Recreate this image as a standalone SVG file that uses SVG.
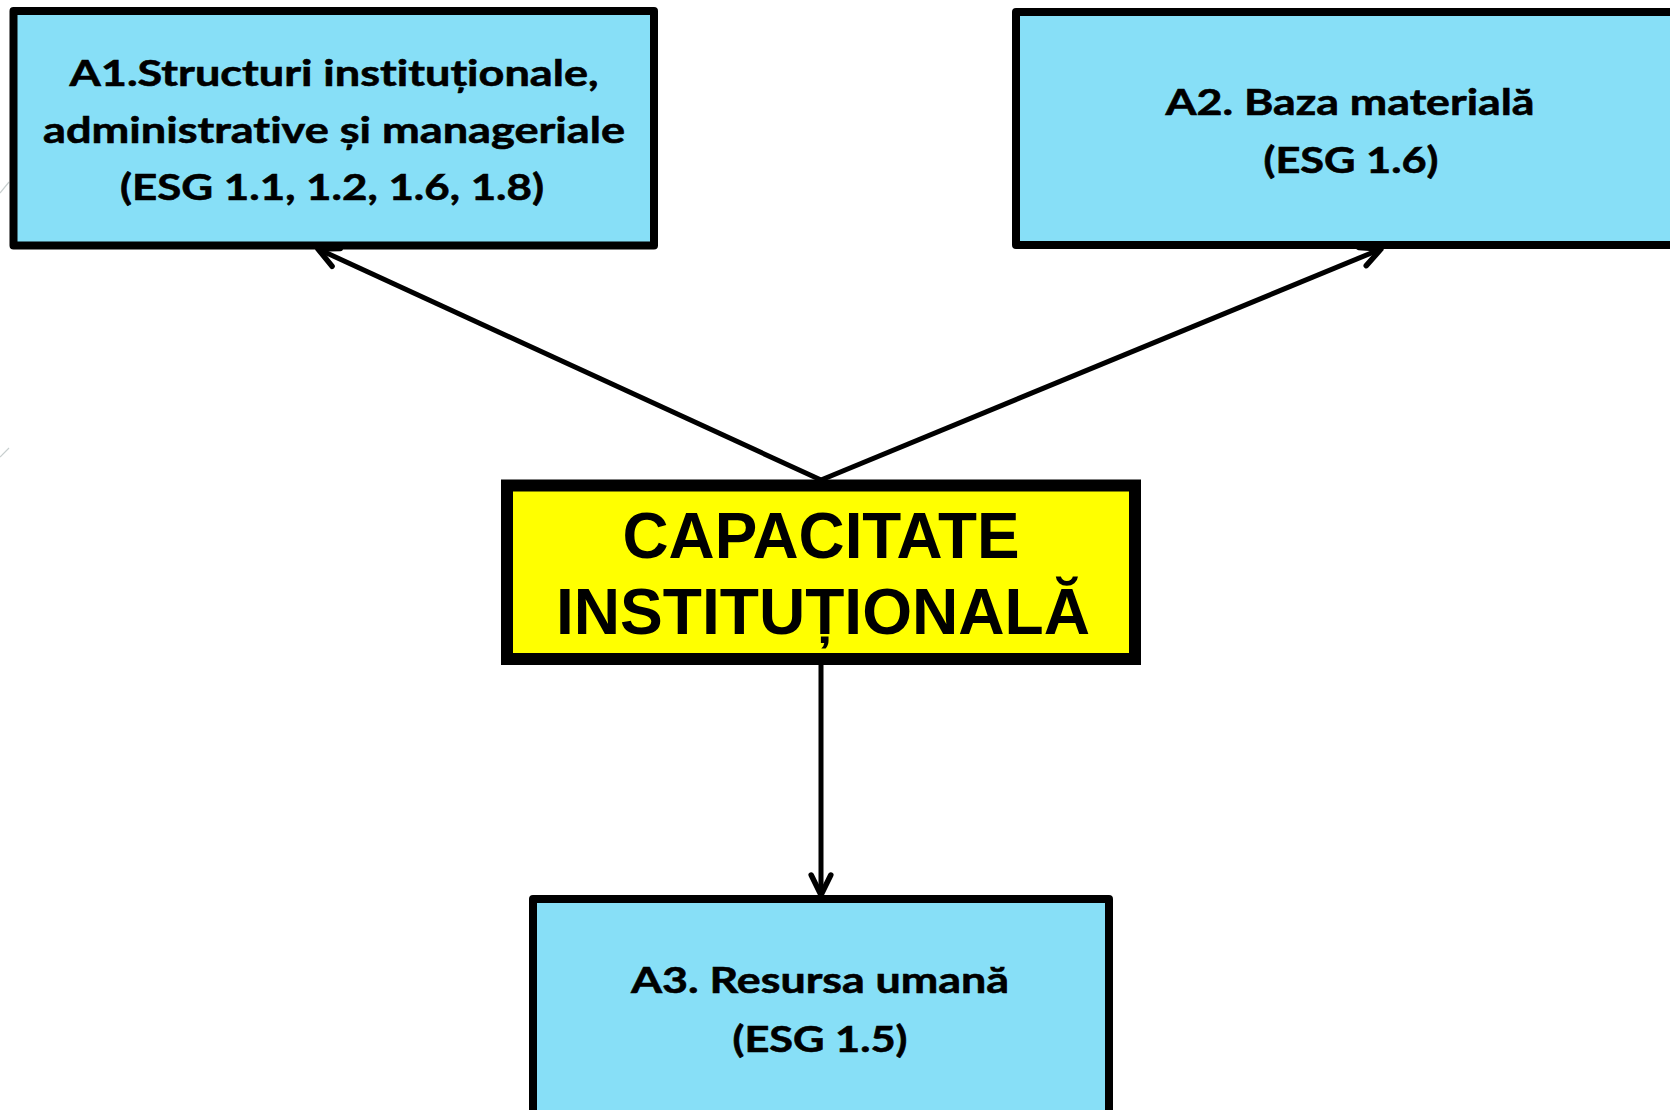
<svg xmlns="http://www.w3.org/2000/svg" width="1670" height="1110" viewBox="0 0 1670 1110">
  <style>
    .box { fill: #87DFF7; stroke: #000; stroke-width: 8; stroke-linejoin: round; }
    .core { fill: #FFFF00; stroke: #000; stroke-width: 12; stroke-linejoin: miter; }
    .lbl { font-family: Lato, "Open Sans", "Noto Sans", sans-serif; font-weight: bold; font-size: 37px; fill: #000; stroke: #000; stroke-width: 0.6; text-anchor: middle; font-variant-ligatures: none; }
    .big { font-family: "Liberation Sans", Arial, sans-serif; font-weight: bold; font-size: 65px; fill: #000; text-anchor: middle; }
    .conn { stroke: #000; stroke-width: 5; fill: none; }
    .artifact { stroke: #c8cfcf; stroke-width: 1.2; fill: none; }
  </style>
  <defs>
    <marker id="arrow" markerUnits="userSpaceOnUse" markerWidth="40" markerHeight="40" viewBox="-30 -20 40 40" refX="0" refY="0" orient="auto" overflow="visible">
      <path d="M-20,-9.8 L0,0 L-20,9.8" fill="none" stroke="#000" stroke-width="5.5" stroke-linecap="round" stroke-linejoin="round"/>
    </marker>
  </defs>
  <rect x="0" y="0" width="1670" height="1110" fill="#FFFFFF"/>

  <g id="artifacts">
    <line class="artifact" x1="0" y1="193" x2="9" y2="182"/>
    <line class="artifact" x1="0" y1="457" x2="9" y2="448" stroke="#8fa3a0"/>
  </g>

  <g id="connectors">
    <line class="conn" x1="821" y1="480" x2="318" y2="249" marker-end="url(#arrow)"/>
    <line class="conn" x1="821" y1="480" x2="1381" y2="249" marker-end="url(#arrow)"/>
    <line class="conn" x1="821" y1="665" x2="821" y2="895" marker-end="url(#arrow)"/>
  </g>

  <g id="node-a1">
    <rect class="box" x="13.5" y="11" width="640.5" height="234.5"/>
    <text class="lbl" x="334" y="86" textLength="529" lengthAdjust="spacingAndGlyphs">A1.Structuri instituționale,</text>
    <text class="lbl" x="334" y="143" textLength="582" lengthAdjust="spacingAndGlyphs">administrative și manageriale</text>
    <text class="lbl" x="332" y="200" textLength="424" lengthAdjust="spacingAndGlyphs">(ESG 1.1, 1.2, 1.6, 1.8)</text>
  </g>

  <g id="node-a2">
    <rect class="box" x="1016" y="12" width="670" height="233"/>
    <text class="lbl" x="1350" y="115" textLength="369" lengthAdjust="spacingAndGlyphs">A2. Baza materială</text>
    <text class="lbl" x="1351" y="173" textLength="175" lengthAdjust="spacingAndGlyphs">(ESG 1.6)</text>
  </g>

  <g id="node-core">
    <rect class="core" x="507" y="485.5" width="628" height="173.5"/>
    <text class="big" x="821" y="558" textLength="397" lengthAdjust="spacingAndGlyphs">CAPACITATE</text>
    <text class="big" x="823" y="634" textLength="534" lengthAdjust="spacingAndGlyphs">INSTITUȚIONALĂ</text>
  </g>

  <g id="node-a3">
    <rect class="box" x="533" y="899" width="576" height="240"/>
    <text class="lbl" x="820" y="993" textLength="378" lengthAdjust="spacingAndGlyphs">A3. Resursa umană</text>
    <text class="lbl" x="820" y="1052" textLength="175" lengthAdjust="spacingAndGlyphs">(ESG 1.5)</text>
  </g>
</svg>
